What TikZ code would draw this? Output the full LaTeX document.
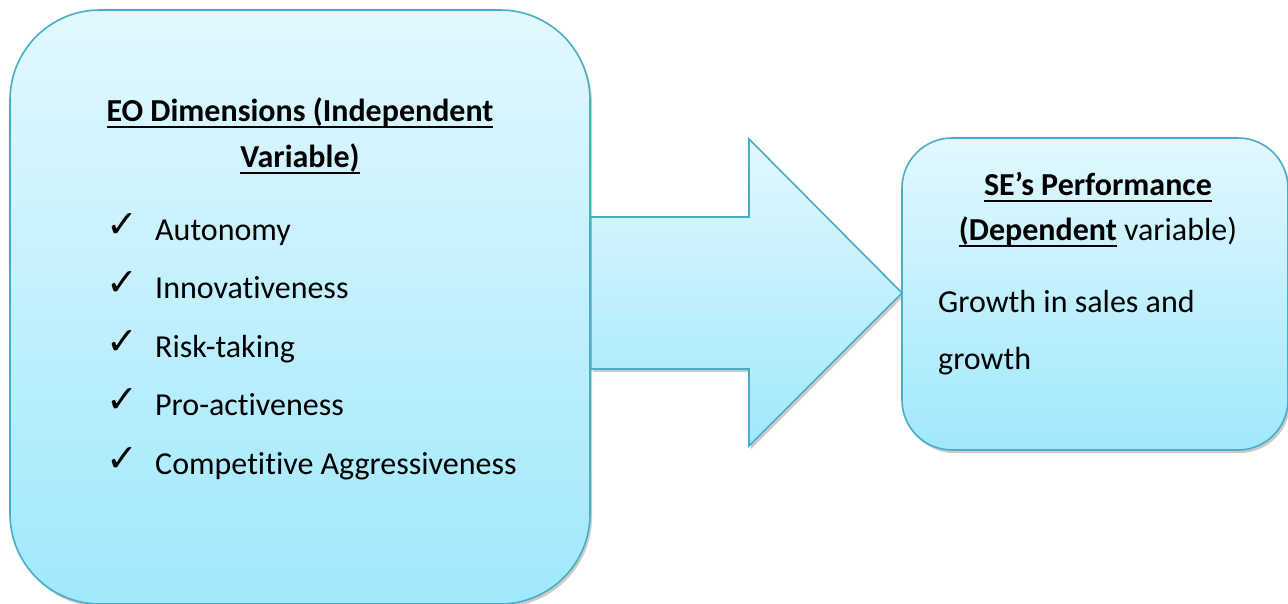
\documentclass[tikz,border=0pt]{standalone}
\usepackage{fontspec}
\setmainfont{Carlito}[Ligatures=NoCommon]
\newfontfamily\symfont{DejaVu Sans}
\usetikzlibrary{shadows,calc}

\definecolor{boxedge}{RGB}{75,172,198}
\definecolor{boxtop}{RGB}{226,248,254}
\definecolor{boxbot}{RGB}{160,232,252}

% thick underline, as in the word-processor original
\newcommand\undl[1]{\setbox0=\hbox{#1}\leavevmode\rlap{\lower4.5pt\hbox{\vrule width\wd0 height 0pt depth 2.8pt}}\box0}
\newcommand\tick{{\symfont\fontsize{38}{38}\selectfont\char"2713}}

\begin{document}
\begin{tikzpicture}[x=1pt,y=-1pt,line join=miter,
  panel/.style={draw=boxedge,line width=1.6pt,top color=boxtop,bottom color=boxbot,
    drop shadow={shadow xshift=2pt,shadow yshift=-3pt,opacity=.2,fill=black},inner sep=0pt},
  blockarrow/.style={draw=boxedge,line width=1.6pt,top color=boxtop,bottom color=boxbot,
    drop shadow={shadow xshift=2pt,shadow yshift=-3pt,opacity=.2,fill=black}},
  head/.style={font=\fontsize{32}{38}\selectfont\bfseries,anchor=base,inner sep=0pt},
  item/.style={font=\fontsize{32}{38}\selectfont,anchor=base west,inner sep=0pt}]
  \useasboundingbox (0,0) rectangle (1288,603);
  \node[panel,minimum width=580pt,minimum height=594pt,rounded corners=90pt] (eobox) at (300,307) {};
  % block arrow from the dimensions to the performance box
  \coordinate (tip) at (902,293);
  \draw[blockarrow] (eobox.east |- 0,217) -- (749,217) -- (749,139) -- (tip)
    -- (749,446) -- (749,369) -- (eobox.east |- 0,369) -- cycle;
  \node[panel,minimum width=386pt,minimum height=312pt,rounded corners=50pt] (perfbox) at (1095,294) {};
  \node[head] (eotitle) at (300,121) {\undl{EO Dimensions (Independent}};
  \node[head] (eovar) at (300,167) {\undl{Variable)}};
  \foreach \n/\y/\txt in {1/240/Autonomy,2/298.5/Innovativeness,3/357/Risk-taking,
    4/415.5/Pro-activeness,5/474/Competitive Aggressiveness}{
    \node[anchor=base west,inner sep=0pt] (tick\n) at (106,\y-3) {\tick};
    \node[item] (dim\n) at (155,\y) {\txt};
  }
  \node[head] (setitle) at (1098,195) {\undl{SE’s Performance}};
  \node[head] (sedep) at (1098,240) {\undl{(Dependent}\mdseries\ variable)};
  \node[item] (growth1) at (938,312) {Growth in sales and};
  \node[item] (growth2) at (938,369) {growth};
\end{tikzpicture}
\end{document}
